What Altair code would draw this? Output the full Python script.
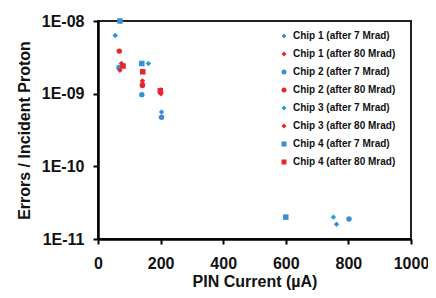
import altair as alt
import pandas as pd

series_names = [
    "Chip 1 (after 7 Mrad)", "Chip 1 (after 80 Mrad)",
    "Chip 2 (after 7 Mrad)", "Chip 2 (after 80 Mrad)",
    "Chip 3 (after 7 Mrad)", "Chip 3 (after 80 Mrad)",
    "Chip 4 (after 7 Mrad)", "Chip 4 (after 80 Mrad)",
]
series_colors = ["#3a8fd4", "#e8262b", "#3a8fd4", "#e8262b",
                 "#22a2db", "#e8262b", "#3a8fd4", "#e8262b"]
series_shapes = ["diamond", "diamond", "circle", "circle",
                 "diamond", "diamond", "square", "square"]

# PIN current (uA) and errors per incident proton for each series
chip1_7_x = [55, 203, 762]
chip1_7_y = [6.3e-9, 5.6e-10, 1.6e-11]
chip1_80_x = [75, 142, 200]
chip1_80_y = [2.6e-9, 1.5e-9, 1.12e-9]
chip2_7_x = [67, 140, 203, 802]
chip2_7_y = [2.3e-9, 9.7e-10, 4.75e-10, 1.88e-11]
chip2_80_x = [68, 142, 200]
chip2_80_y = [3.85e-9, 1.3e-9, 1.05e-9]
chip3_7_x = [72, 161, 752]
chip3_7_y = [1.0e-8, 2.6e-9, 2.0e-11]
chip3_80_x = [70, 142, 201]
chip3_80_y = [2.1e-9, 1.38e-9, 1.0e-9]
chip4_7_x = [70, 140, 600]
chip4_7_y = [1.0e-8, 2.6e-9, 2.0e-11]
chip4_80_x = [80, 143, 199]
chip4_80_y = [2.4e-9, 2.0e-9, 1.1e-9]

xs = [chip1_7_x, chip1_80_x, chip2_7_x, chip2_80_x, chip3_7_x, chip3_80_x, chip4_7_x, chip4_80_x]
ys = [chip1_7_y, chip1_80_y, chip2_7_y, chip2_80_y, chip3_7_y, chip3_80_y, chip4_7_y, chip4_80_y]

x_ticks = [0, 200, 400, 600, 800, 1000]
y_ticks = [1e-11, 1e-10, 1e-9, 1e-8]
y_tick_labels = ["1E-11", "1E-10", "1E-09", "1E-08"]

rows = []
for name, xv, yv in zip(series_names, xs, ys):
    for a, b in zip(xv, yv):
        rows.append({"series": name, "current": a, "rate": b})
df = pd.DataFrame(rows)

# label expression built from the tick label list
expr = " : ".join(
    f"abs(log(datum.value)/LN10 - ({i - 11})) < 0.01 ? '{lab}'"
    for i, lab in enumerate(y_tick_labels)
) + " : ''"

FONT = "Liberation Sans"

chart = alt.Chart(df).mark_point(filled=True, opacity=1, clip=False).encode(
    x=alt.X("current:Q", title="PIN Current (µA)",
            scale=alt.Scale(domain=[0, 1000], nice=False),
            axis=alt.Axis(values=x_ticks, format="d", grid=False, domainColor="black", domainWidth=2.5,
                          tickColor="black", tickWidth=2, tickSize=5,
                          labelFont=FONT, labelFontSize=16, labelFontWeight="bold",
                          labelColor="#111", labelPadding=11, labelFlush=False,
                          titleFont=FONT, titleFontSize=16, titleFontWeight="bold",
                          titleColor="#111", titlePadding=2)),
    y=alt.Y("rate:Q", title="Errors / Incident Proton",
            scale=alt.Scale(type="log", domain=[1e-11, 1e-8], nice=False),
            axis=alt.Axis(values=y_ticks, labelExpr=expr, grid=False,
                          domainColor="black", domainWidth=2.5,
                          tickColor="black", tickWidth=2, tickSize=5,
                          labelFont=FONT, labelFontSize=16, labelFontWeight="bold",
                          labelColor="#111", labelPadding=9, labelFlush=False,
                          titleFont=FONT, titleFontSize=16, titleFontWeight="bold",
                          titleColor="#111", titlePadding=9)),
    color=alt.Color("series:N", scale=alt.Scale(domain=series_names, range=series_colors),
                    legend=alt.Legend(title=None, orient="none", legendX=181, legendY=10,
                                      labelFont=FONT, labelFontSize=10, labelFontWeight="bold",
                                      labelColor="#111", symbolSize=25, rowPadding=8,
                                      labelOffset=4, padding=0, symbolStrokeWidth=0)),
    shape=alt.Shape("series:N", scale=alt.Scale(domain=series_names, range=series_shapes)),
    size=alt.value(30),
).properties(
    width=313, height=218,
    padding={"left": 90, "top": 13, "right": 17, "bottom": 51},
    autosize="none",
).configure_view(
    stroke="#222", strokeWidth=2
)

chart.save("out.html", embed_options={"renderer": "svg", "actions": False})
